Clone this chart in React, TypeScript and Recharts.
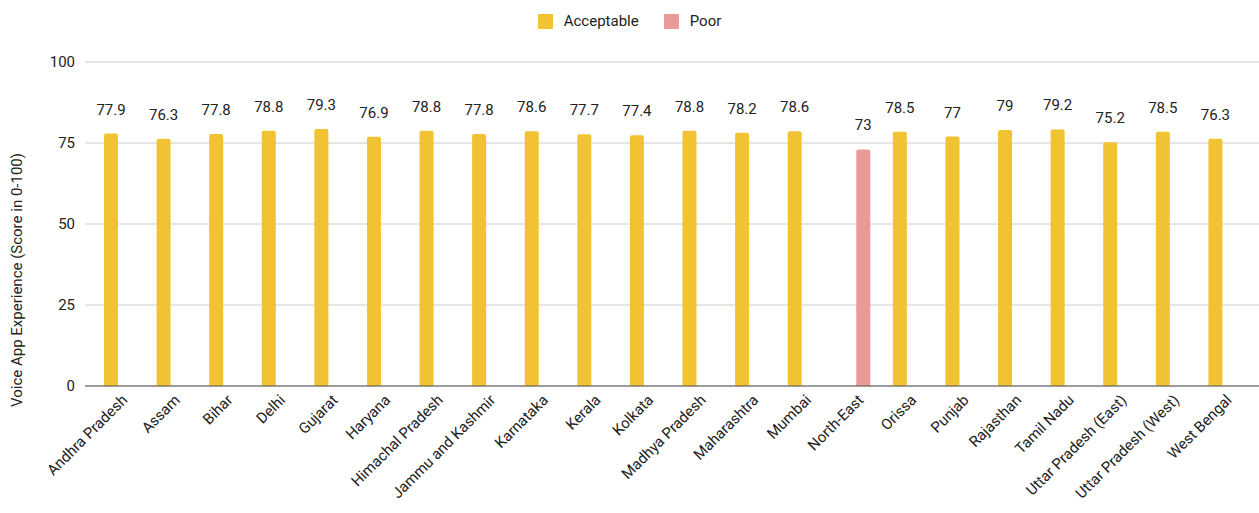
import React from 'react';
import { BarChart, Bar, XAxis, YAxis, CartesianGrid, Legend, LabelList } from 'recharts';

const regions = [
    'Andhra Pradesh', 'Assam', 'Bihar', 'Delhi', 'Gujarat', 'Haryana', 'Himachal Pradesh',
    'Jammu and Kashmir', 'Karnataka', 'Kerala', 'Kolkata', 'Madhya Pradesh', 'Maharashtra',
    'Mumbai', 'North-East', 'Orissa', 'Punjab', 'Rajasthan', 'Tamil Nadu',
    'Uttar Pradesh (East)', 'Uttar Pradesh (West)', 'West Bengal',
];

// null where the region falls in the other rating band
const acceptable = [
    77.9, 76.3, 77.8, 78.8, 79.3, 76.9, 78.8, 77.8, 78.6, 77.7, 77.4, 78.8, 78.2,
    78.6, null, 78.5, 77, 79, 79.2, 75.2, 78.5, 76.3,
];
const poor = [
    null, null, null, null, null, null, null, null, null, null, null, null, null,
    null, 73, null, null, null, null, null, null, null,
];

const yTicks = [0, 25, 50, 75, 100];

const COLORS = { acceptable: '#F1C232', poor: '#EA9999' };
const TEXT = '#222222';

const data = regions.map((name, i) => ({ name, acceptable: acceptable[i], poor: poor[i] }));

function RegionTick({ x, y, payload }: any) {
    return (
        <text
            transform={`translate(${x + 9},${y + 15}) rotate(-45)`}
            textAnchor="end"
            fill={TEXT}
            fontSize={15}
        >
            {payload.value}
        </text>
    );
}

function LegendRow() {
    const items = [
        { label: 'Acceptable', color: COLORS.acceptable },
        { label: 'Poor', color: COLORS.poor },
    ];
    return (
        <div style={{ display: 'flex', justifyContent: 'center', gap: 25, height: 22, alignItems: 'center' }}>
            {items.map((it) => (
                <div key={it.label} style={{ display: 'flex', alignItems: 'center', gap: 11 }}>
                    <span style={{ width: 15, height: 15, background: it.color, borderRadius: 1, display: 'inline-block' }} />
                    <span style={{ fontSize: 15, color: TEXT }}>{it.label}</span>
                </div>
            ))}
        </div>
    );
}

function AxisTitle({ viewBox }: any) {
    const cx = 17;
    const cy = viewBox.y + viewBox.height / 2 + 56;
    return (
        <text
            transform={`translate(${cx},${cy}) rotate(-90)`}
            textAnchor="middle"
            dominantBaseline="central"
            fill={TEXT}
            fontSize={15}
        >
            Voice App Experience (Score in 0-100)
        </text>
    );
}

export default function App() {
    return (
        <div style={{ position: 'absolute', left: 0, top: 0, fontFamily: 'Roboto, sans-serif', background: '#fff' }}>
            <BarChart
                width={1259}
                height={513}
                data={data}
                margin={{ top: 40, right: 0, left: 0, bottom: 0 }}
                barSize={14}
                barGap={2}
            >
                <Legend verticalAlign="top" content={<LegendRow />} wrapperStyle={{ top: 10 }} />
                <CartesianGrid vertical={false} stroke="#cccccc" />
                <XAxis
                    dataKey="name"
                    interval={0}
                    tick={<RegionTick />}
                    tickLine={false}
                    tickSize={0}
                    tickMargin={0}
                    axisLine={{ stroke: '#555555' }}
                    padding={{ left: 8, right: 9 }}
                    height={127}
                />
                <YAxis
                    domain={[0, 100]}
                    ticks={yTicks}
                    width={85}
                    axisLine={false}
                    tickLine={false}
                    tickMargin={4}
                    tick={{ fill: TEXT, fontSize: 15 }}
                    label={{ content: <AxisTitle /> }}
                />
                <Bar dataKey="acceptable" name="Acceptable" fill={COLORS.acceptable} radius={[2, 2, 0, 0]} isAnimationActive={false}>
                    <LabelList dataKey="acceptable" position="top" offset={19} fill={TEXT} fontSize={15} />
                </Bar>
                <Bar dataKey="poor" name="Poor" fill={COLORS.poor} radius={[2, 2, 0, 0]} isAnimationActive={false}>
                    <LabelList dataKey="poor" position="top" offset={19} fill={TEXT} fontSize={15} />
                </Bar>
            </BarChart>
        </div>
    );
}
